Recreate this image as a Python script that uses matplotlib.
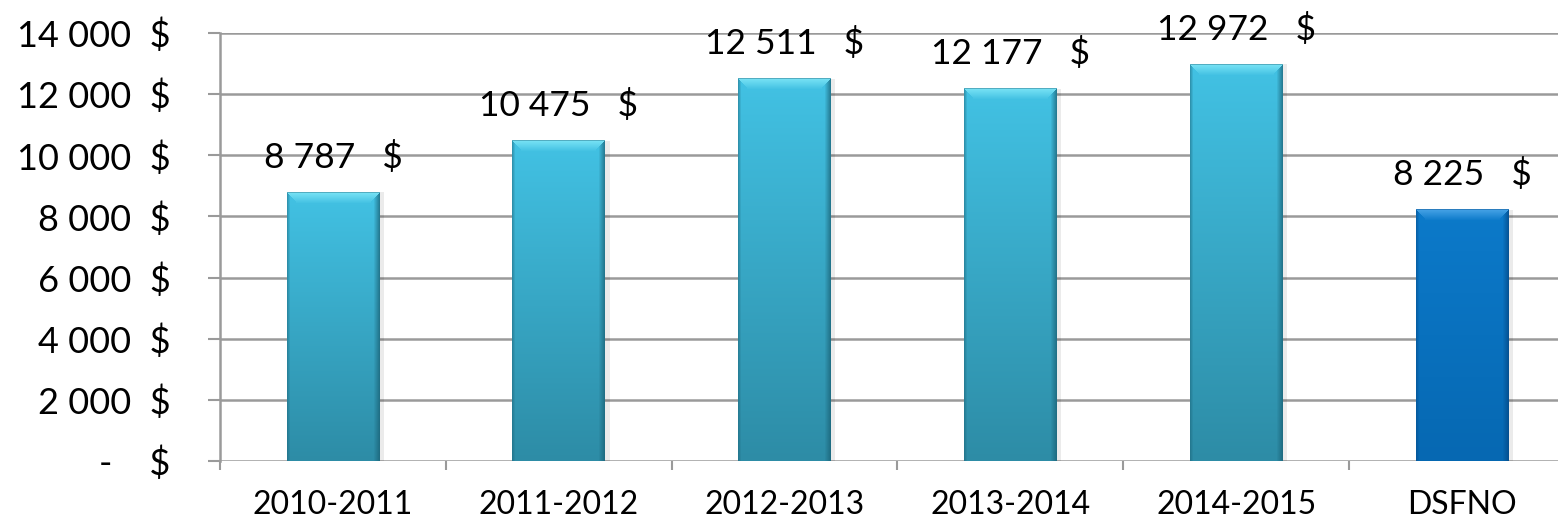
import numpy as np
import matplotlib
matplotlib.use("Agg")
import matplotlib.pyplot as plt

categories = ["2010-2011", "2011-2012", "2012-2013", "2013-2014", "2014-2015", "DSFNO"]
values = [8787, 10475, 12511, 12177, 12972, 8225]
yticks = [0, 2000, 4000, 6000, 8000, 10000, 12000, 14000]

plt.rcParams['font.family'] = ['Lato', 'DejaVu Sans']

W, H = 1558, 523
fig = plt.figure(figsize=(W/100, H/100), dpi=100)
ax = fig.add_axes([220/W, (H-461)/H, 1355/W, (461-33)/H])

xpos = np.arange(len(categories))
bars = ax.bar(xpos, values, width=0.41, facecolor='none', edgecolor='none', zorder=3)
ax.set_xlim(-0.5, len(categories)-0.5)
ax.set_ylim(0, 14000)

grid_c = '#9a9a9a'
for y in yticks:
    ax.axhline(y, color=grid_c, lw=1.8, zorder=1)
for s in ['top', 'right', 'bottom']:
    ax.spines[s].set_visible(False)
ax.spines['left'].set_color(grid_c)
ax.spines['left'].set_linewidth(1.8)

def fmt(v, gap="  "):
    if v == 0:
        return "-    $"
    return f"{v:,}".replace(",", " ") + gap + "$"

ax.set_yticks(yticks)
ax.set_yticklabels([fmt(v) for v in yticks], fontsize=26)
ax.tick_params(axis='y', direction='out', length=8.5, width=1.5, color=grid_c, pad=27)

ax.set_xticks(np.arange(-0.5, len(categories)), minor=False)
ax.set_xticklabels([])
ax.tick_params(axis='x', which='major', direction='out', length=6.5, width=1.5, color=grid_c)
ax.set_xticks(xpos, minor=True)
ax.set_xticklabels(categories, minor=True, fontsize=23)
ax.tick_params(axis='x', which='minor', length=0, pad=21)

for b, v in zip(bars, values):
    ax.text(b.get_x()+b.get_width()/2, v + 800, fmt(v, "   "), ha='center', va='baseline',
            fontsize=25.5, zorder=5, clip_on=False)

fig.canvas.draw()
renderer = fig.canvas.get_renderer()

def bar_image(wpx, hpx, top, bot, light, dark):
    wpx = max(int(round(wpx)), 2); hpx = max(int(round(hpx)), 2)
    t = np.linspace(0, 1, hpx)[:, None, None]
    top = np.array(top)/255.; bot = np.array(bot)/255.
    img = np.ones((hpx, wpx, 3)) * (top*(1-t) + bot*t)
    light = np.array(light)/255.; dark = np.array(dark)/255.
    bevel = 11
    yy, xx = np.mgrid[0:hpx, 0:wpx]
    dist_top = yy
    in_top = (dist_top < bevel) & (xx >= dist_top*0.9) & (wpx-1-xx >= dist_top*0.9)
    f = (1 - dist_top/bevel)[..., None]
    img = np.where(in_top[..., None], img*(1-f*0.85) + light*f*0.85, img)
    dr = wpx-1-xx
    in_r = (dr < 6) & ~in_top
    fr = (1 - dr/6)[..., None]
    img = np.where(in_r[..., None], img*(1-fr*0.7) + dark*fr*0.7, img)
    dl = xx
    in_l = (dl < 3) & ~in_top
    fl = (1 - dl/3)[..., None]
    img = np.where(in_l[..., None], img*(1-fl*0.45) + dark*fl*0.45, img)
    img[0:1, :, :] = img[0:1, :, :]*0.6 + dark*0.4
    return img

for i, b in enumerate(bars):
    bb = b.get_window_extent(renderer)
    if categories[i] == "DSFNO":
        img = bar_image(bb.width, bb.height, (12, 122, 202), (6, 104, 178), (80, 170, 235), (4, 70, 130))
    else:
        img = bar_image(bb.width, bb.height, (66, 194, 228), (45, 140, 166), (130, 232, 248), (25, 95, 115))
    x0 = b.get_x(); x1 = x0 + b.get_width()
    ax.imshow(img, extent=(x0, x1, 0, b.get_height()), aspect='auto', zorder=3, interpolation='bilinear')
    ax.bar(b.get_x()+b.get_width()/2 + 0.02, b.get_height(), width=b.get_width(), color='#000000', alpha=0.08, zorder=2)

ax.set_xlim(-0.5, len(categories)-0.5)
ax.set_ylim(0, 14000)
fig.savefig("out.png", dpi=100)
